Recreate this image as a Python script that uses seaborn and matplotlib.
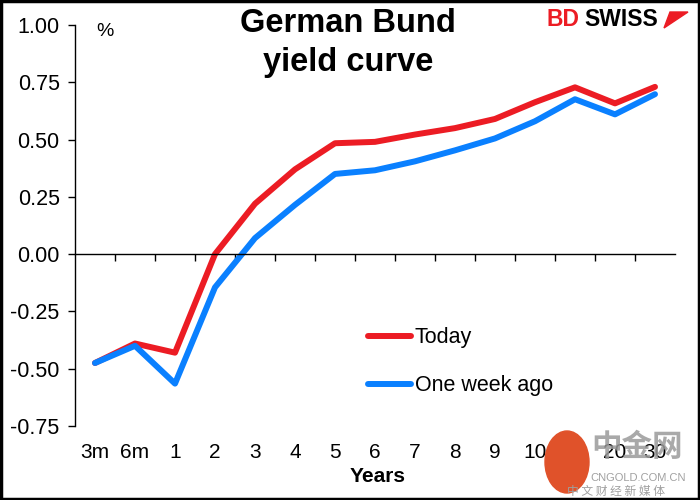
import numpy as np
import pandas as pd
import matplotlib
matplotlib.use("Agg")
import matplotlib.pyplot as plt
import matplotlib.transforms as mtrans
from matplotlib.patches import Ellipse, Polygon
import seaborn as sns

tenors = ["3m", "6m", "1", "2", "3", "4", "5", "6", "7", "8", "9", "10", "15", "20", "30"]
today = [-0.475, -0.39, -0.43, 0.0, 0.22, 0.37, 0.484, 0.49, 0.522, 0.55, 0.59, 0.663, 0.728, 0.658, 0.73]
week_ago = [-0.475, -0.40, -0.565, -0.145, 0.07, 0.215, 0.35, 0.366, 0.405, 0.453, 0.505, 0.58, 0.676, 0.61, 0.698]
series_names = ["Today", "One week ago"]
colours = ["#EC1C24", "#0A80FF"]

df = pd.DataFrame({
    "pos": list(range(len(tenors))) * 2,
    "value": today + week_ago,
    "series": [series_names[0]] * len(tenors) + [series_names[1]] * len(tenors),
})

sns.set_style("white")
plt.rcParams['font.family'] = ['Liberation Sans', 'DejaVu Sans']
plt.rcParams['text.color'] = 'black'
plt.rcParams['xtick.color'] = 'black'
plt.rcParams['ytick.color'] = 'black'

fig = plt.figure(figsize=(7, 5), dpi=100)
ax = fig.add_axes([75 / 700, 1 - 426 / 500, 600 / 700, 401 / 500])

sns.lineplot(data=df, x="pos", y="value", hue="series", palette=colours,
             linewidth=4.3, ax=ax, legend=True)
for ln in ax.lines:
    ln.set_solid_capstyle('round')

ax.set_xlim(-0.5, len(tenors) - 0.5)
ax.set_ylim(-0.75, 1.0)
yt = np.arange(-0.75, 1.01, 0.25)
ax.set_yticks(yt)
ax.set_yticklabels([f"{v:.2f}" for v in yt], fontsize=15.5)
ax.tick_params(axis='y', direction='out', length=5, width=1, left=True, pad=6)

ax.spines['top'].set_visible(False)
ax.spines['right'].set_visible(False)
ax.spines['left'].set_color('black')
ax.spines['left'].set_linewidth(1)
ax.spines['bottom'].set_position(('data', 0))
ax.spines['bottom'].set_color('black')
ax.spines['bottom'].set_linewidth(1)
ax.set_xticks(np.arange(0.5, len(tenors) - 1, 1))
ax.set_xticklabels([])
ax.tick_params(axis='x', direction='out', length=5, width=1, bottom=True)

trans = mtrans.blended_transform_factory(ax.transData, ax.transAxes)
for i, lab in enumerate(tenors):
    ax.text(i, -0.067, lab, transform=trans, ha='center', va='center', fontsize=15)

ax.set_xlabel("")
ax.set_ylabel("")
fig.text(378 / 700, 1 - 477 / 500, "Years", ha='center', va='center', fontsize=15, fontweight='bold')
fig.text(105 / 700, 1 - 32 / 500, "%", ha='center', va='center', fontsize=14)

fig.text(348 / 700, 1 - 23 / 500, "German Bund", ha='center', va='center', fontsize=23.5, fontweight='bold')
fig.text(348 / 700, 1 - 62 / 500, "yield curve", ha='center', va='center', fontsize=23.5, fontweight='bold')

leg = ax.legend(loc='upper left', bbox_to_anchor=(274 / 600, 1 - 283 / 401), frameon=False,
                fontsize=15.5, handlelength=2.0, handletextpad=0.15, labelspacing=1.25)
for h in leg.get_lines():
    h.set_linewidth(4.3)

# logo
fig.text(546 / 700, 1 - 20 / 500, "BD", ha='left', va='center', fontsize=16.5, fontweight='bold', color='#EC1C24')
fig.text(584 / 700, 1 - 20 / 500, "SWISS", ha='left', va='center', fontsize=16.5, fontweight='bold', color='black')
fig.patches.append(Polygon([(664 / 700, 1 - 28 / 500), (688 / 700, 1 - 12 / 500), (670 / 700, 1 - 12 / 500)],
                           closed=True, transform=fig.transFigure, color='#EC1C24'))

# watermark
fig.patches.append(Ellipse((567 / 700, 1 - 462 / 500), 44 / 700, 62 / 500, transform=fig.transFigure,
                           color='#E0522A', zorder=5))
fig.text(637 / 700, 1 - 447 / 500, "中金网", ha='center', va='center', fontsize=22, fontweight='bold',
         color='#9A9A9A', alpha=0.85, family=['Noto Sans CJK SC', 'DejaVu Sans'], zorder=6)
fig.text(638 / 700, 1 - 478 / 500, "CNGOLD.COM.CN", ha='center', va='center', fontsize=8,
         color='#A0A0A0', zorder=6)
fig.text(616 / 700, 1 - 491 / 500, "中 文 财 经 新 媒 体", ha='center', va='center', fontsize=8.5,
         color='#A0A0A0', family=['Noto Sans CJK SC', 'DejaVu Sans'], zorder=6)

fig.patches.append(plt.Rectangle((0.002, 0.002), 0.996, 0.996, transform=fig.transFigure,
                                 fill=False, edgecolor='black', linewidth=2.5))

fig.savefig("out.png", dpi=100)
